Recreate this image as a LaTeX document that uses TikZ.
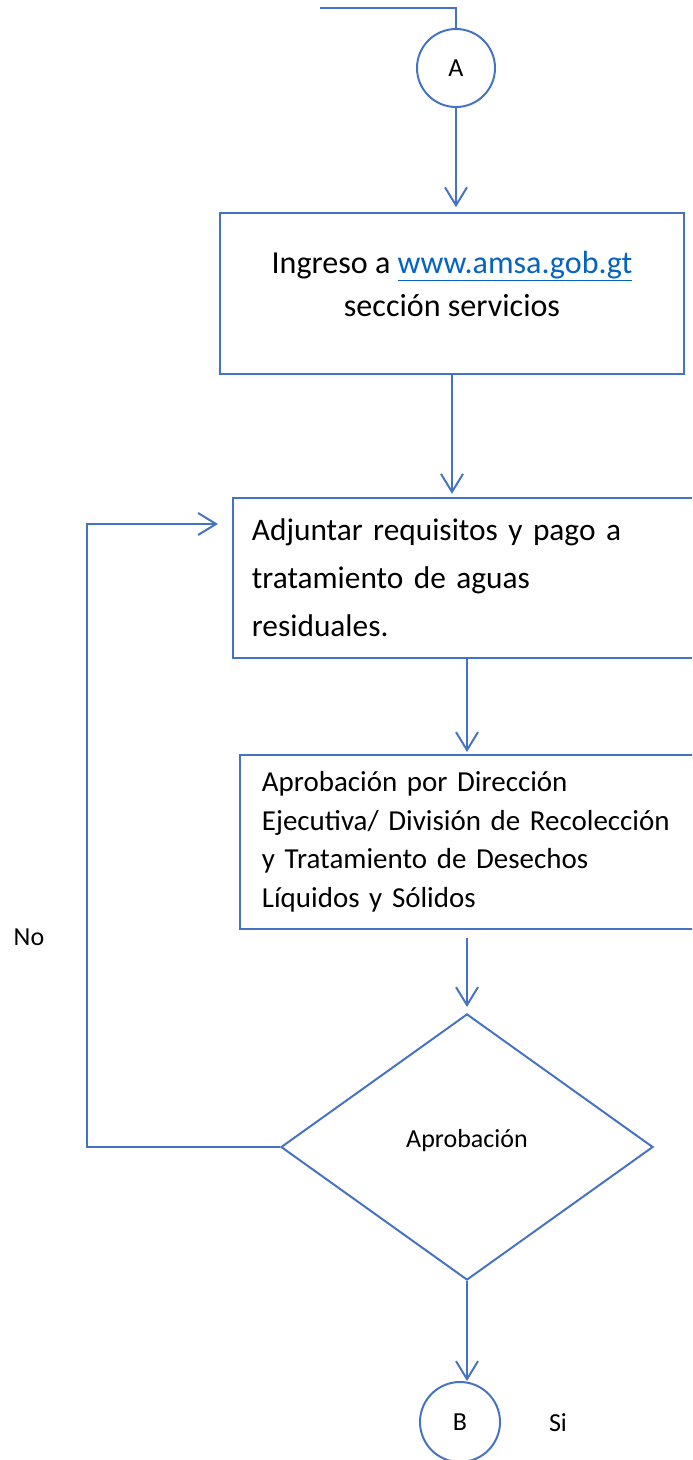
\documentclass[tikz,border=0pt]{standalone}
\usepackage{fontspec}
\setmainfont{Carlito}
\usetikzlibrary{arrows.meta,shapes.geometric,calc}
\definecolor{flowblue}{HTML}{4472C4}
\definecolor{linkblue}{HTML}{0563C1}

\begin{document}
\begin{tikzpicture}[
  x=0.025cm, y=-0.025cm,
  line/.style={draw=flowblue, line width=1.4pt},
  arrow/.style={line, -{Straight Barb[length=0.45cm, width=0.55cm]}},
  box/.style={line, rectangle, inner sep=0pt},
  connector/.style={line, circle, minimum size=2cm, inner sep=0pt, font=\fontsize{18.5}{22}\selectfont},
  decision/.style={line, diamond, minimum width=9.3cm, minimum height=6.65cm, inner sep=0pt, font=\fontsize{18.5}{22}\selectfont},
  note/.style={font=\fontsize{18.5}{22}\selectfont}
]
\useasboundingbox (0,0) rectangle (692,1460);
\clip (0,0) rectangle (692,1460);

\node[connector, minimum size=1.95cm] (A) at (456,68) {A};
\node[box, minimum width=11.6cm, minimum height=4.025cm, align=center, text depth=0.5cm, font=\fontsize{22.8}{30.6}\selectfont] (portal) at (452,293.5) {Ingreso a \textcolor{linkblue}{\underline{www.amsa.gob.gt}}\\sección servicios};
\node[box, minimum height=4cm, text width=11.225cm, inner xsep=0.475cm, align=left, font=\fontsize{22.3}{34.1}\selectfont] (attach) at (476.5,578) {Adjuntar requisitos y pago a\\tratamiento de aguas\\residuales.};
\node[box, minimum height=4.35cm, text width=10.9cm, inner xsep=0.55cm, align=left, font=\fontsize{20.6}{27.4}\selectfont] (review) at (480,842) {Aprobación por Dirección\\Ejecutiva/ División de Recolección\\y Tratamiento de Desechos\\Líquidos y Sólidos};
\node[decision, text depth=0.43cm] (check) at (467,1147) {Aprobación};
\node[connector] (B) at (460,1422) {B};
\node[note] (no) at (29,937) {No};
\node[note] (si) at (558,1423) {Si};

\coordinate (entry) at (320,8);
\draw[line] (entry) -| (A.north);
\draw[arrow, shorten >=0.12cm] (A.south) -- (A.south |- portal.north);
\draw[arrow, shorten >=0.08cm] (portal.south) -- (portal.south |- attach.north);
\draw[arrow, shorten >=0.05cm] (attach.south -| check.north) -- (review.north -| check.north);
\draw[arrow, shorten <=0.2cm, shorten >=0.15cm] (review.south -| check.north) -- (check.north);
\draw[arrow] (check.south) -- (check.south |- B.north);
\draw[arrow, shorten >=0.35cm] (check.west) -- ++(-193,0) |- ([yshift=1.35cm]attach.west);

\end{tikzpicture}
\end{document}
